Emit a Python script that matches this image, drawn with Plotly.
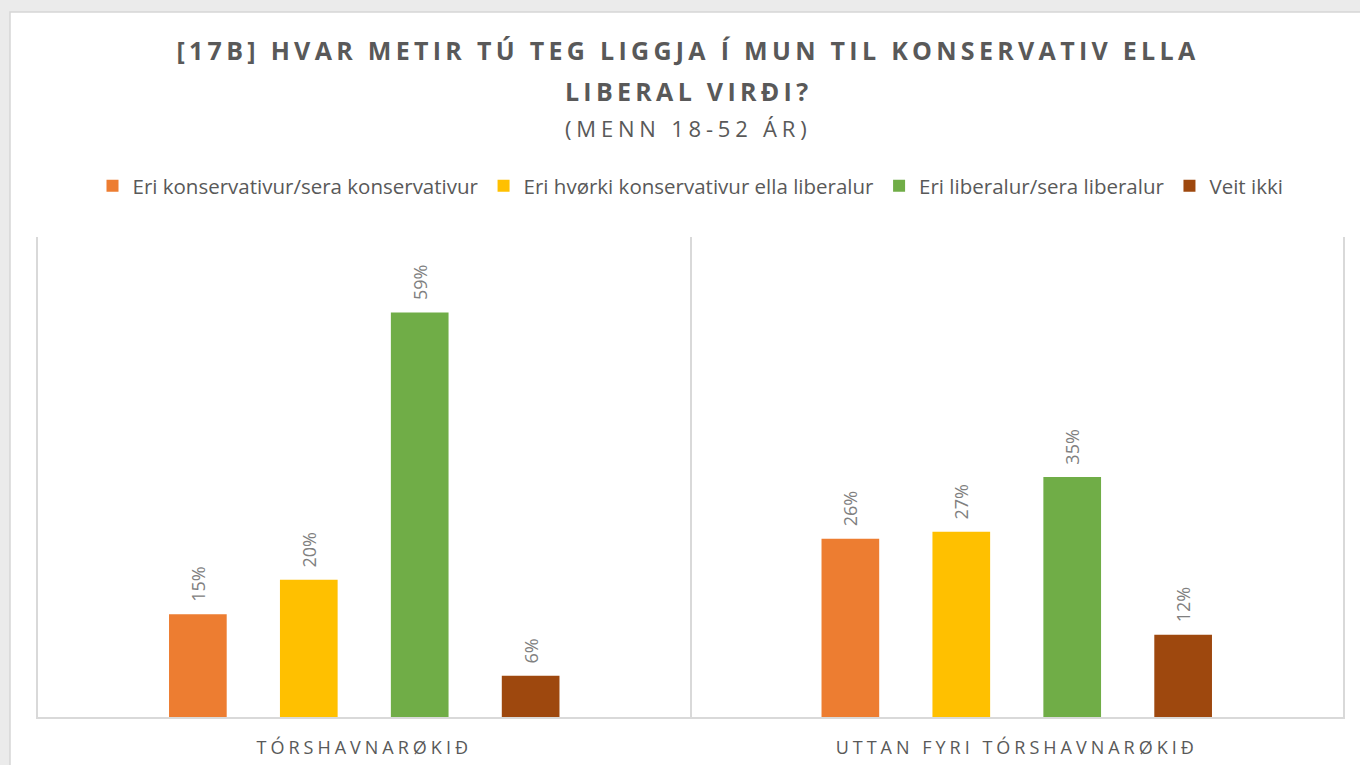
import plotly.graph_objects as go

categories = ["TÓRSHAVNARØKIÐ", "UTTAN FYRI TÓRSHAVNARØKIÐ"]
series_names = [
    "Eri konservativur/sera konservativur",
    "Eri hvørki konservativur ella liberalur",
    "Eri liberalur/sera liberalur",
    "Veit ikki",
]
konservativur = [0.15, 0.26]
hvorki = [0.20, 0.27]
liberalur = [0.59, 0.35]
veit_ikki = [0.06, 0.12]
series_values = [konservativur, hvorki, liberalur, veit_ikki]
colors = ["#ED7D31", "#FFC000", "#70AD47", "#9E480E"]

title_line1 = "[17B] HVAR METIR TÚ TEG LIGGJA Í MUN TIL KONSERVATIV ELLA"
title_line2 = "LIBERAL VIRÐI?"
subtitle = "(MENN 18-52 ÁR)"

FONT = "Open Sans"
GRAY = "#595959"

fig = go.Figure()
for name, vals, col in zip(series_names, series_values, colors):
    fig.add_trace(go.Bar(
        x=categories, y=vals, name=name, marker_color=col,
        marker_line_width=0,
        texttemplate="\u00a0\u00a0%{y:.0%}", textposition="outside", textangle=-90,
        textfont=dict(family=FONT, size=18, color="#808080"),
        cliponaxis=False,
    ))

W, H = 1360, 765
ml, mr, mt, mb = 38, 17, 237, 48
pw, ph = W - ml - mr, H - mt - mb

def py(pix):
    return (H - mb - pix) / ph

def px(pix):
    return (pix - ml) / pw

fig.update_layout(
    width=W, height=H,
    margin=dict(l=ml, r=mr, t=mt, b=mb, autoexpand=False),
    paper_bgcolor="#EBEBEB",
    plot_bgcolor="white",
    barmode="group", bargap=0.32, bargroupgap=0.48,
    font=dict(family=FONT, color=GRAY),
    showlegend=True,
    legend=dict(
        orientation="h", x=0.5, xanchor="center", y=py(186), yanchor="middle",
        font=dict(family=FONT, size=20.5, color=GRAY),
        itemsizing="constant", bgcolor="rgba(0,0,0,0)", itemwidth=30,
    ),
    xaxis=dict(
        type="category", tickson="boundaries", showgrid=True, automargin=False,
        gridcolor="#D9D9D9", gridwidth=1.5, showline=True, linecolor="#D9D9D9",
        linewidth=2, ticks="", tickfont=dict(family=FONT, size=18, color=GRAY),
        ticklabelstandoff=13,
    ),
    yaxis=dict(
        range=[0, 0.70], showgrid=False, zeroline=False, showticklabels=False,
        automargin=False,
        ticks="", showline=True, mirror=True, linecolor="#D9D9D9", linewidth=1.5,
    ),
    shapes=[dict(
        type="rect", xref="paper", yref="paper",
        x0=px(10), x1=px(1365), y0=py(770), y1=py(12),
        fillcolor="white", line=dict(color="#D6D6D6", width=1.5), layer="below",
    )],
    annotations=[
        dict(text="<b>" + title_line1 + "</b>", xref="paper", yref="paper",
             x=px(688), y=py(50), xanchor="center", yanchor="middle",
             showarrow=False, font=dict(family=FONT, size=25, color=GRAY)),
        dict(text="<b>" + title_line2 + "</b>", xref="paper", yref="paper",
             x=px(688), y=py(91), xanchor="center", yanchor="middle",
             showarrow=False, font=dict(family=FONT, size=25, color=GRAY)),
        dict(text=subtitle, xref="paper", yref="paper",
             x=px(688), y=py(128), xanchor="center", yanchor="middle",
             showarrow=False, font=dict(family=FONT, size=22, color=GRAY)),
    ],
)

post = """
document.body.style.margin = '0';
document.body.style.overflow = 'hidden';
document.querySelectorAll('.annotation-text').forEach(function(e, i){
  if (i < 2) { e.style.letterSpacing = '4.3px'; }
  else if (i == 2) { e.style.letterSpacing = '4.8px'; }
});
document.querySelectorAll('.xtick text').forEach(function(e){ e.style.letterSpacing = '4px'; });
"""

fig.write_html("out.html", post_script=post, config={"displayModeBar": False})
